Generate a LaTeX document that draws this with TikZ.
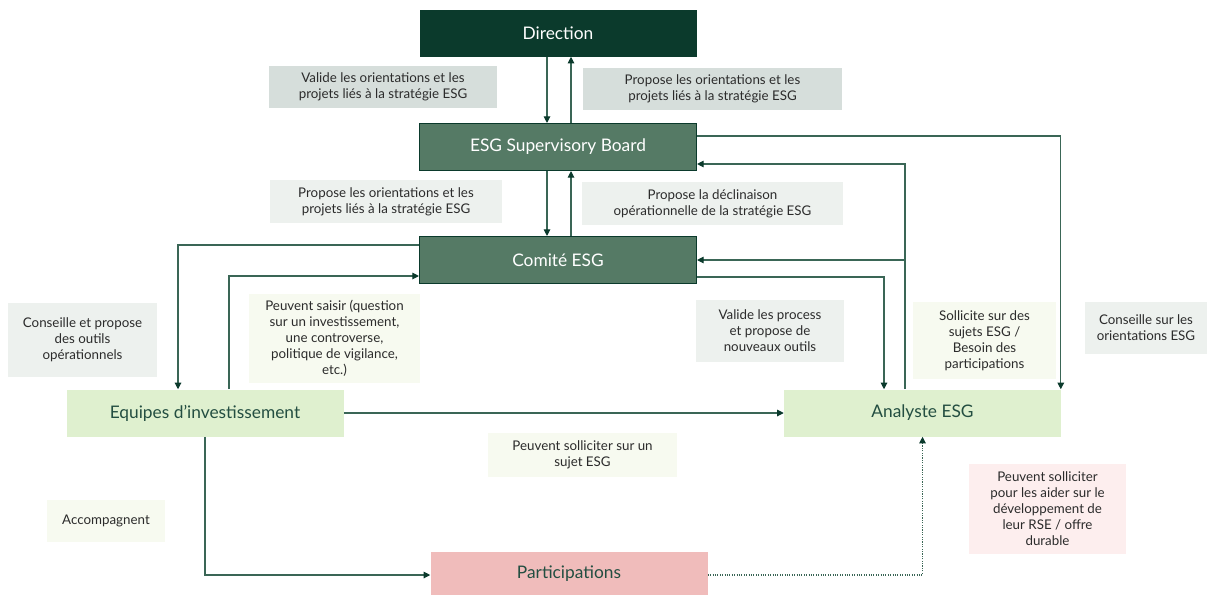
\documentclass[tikz,border=0pt]{standalone}
\usepackage{fontspec}
\setmainfont{Lato}
\usetikzlibrary{arrows.meta,calc}

\definecolor{vertfonce}{HTML}{0B3A2C}
\definecolor{vertmoyen}{HTML}{557A65}
\definecolor{vertclair}{HTML}{DFF0CF}
\definecolor{rose}{HTML}{F0BCBB}
\definecolor{rosepale}{HTML}{FDEEEE}
\definecolor{grisfonce}{HTML}{D6DEDB}
\definecolor{grispale}{HTML}{EDF1EE}
\definecolor{vertpale}{HTML}{F7FAF0}
\definecolor{trait}{HTML}{3A6656}
\definecolor{texte}{HTML}{2B2B2B}

\tikzset{
	boite/.style={minimum width=277*0.75pt, minimum height=47*0.75pt, inner sep=0pt, font=\fontsize{13}{15}\selectfont},
	direction/.style={boite, fill=vertfonce, text=white},
	instance/.style={boite, fill=vertmoyen, draw=vertfonce, line width=0.8pt, text=white},
	equipe/.style={boite, fill=vertclair, text=vertfonce!90},
	particip/.style={boite, fill=rose, text=vertfonce!90, minimum height=43*0.75pt},
	note/.style={inner sep=0pt, align=center, text=texte, font=\fontsize{10}{12}\selectfont},
	notegris/.style={note, fill=grisfonce},
	notepale/.style={note, fill=grispale},
	noteverte/.style={note, fill=vertpale},
	noterose/.style={note, fill=rosepale},
	fleche/.style={draw=trait, line width=0.8pt, -{Triangle[length=5pt,width=5pt,color=vertfonce]}},
}

\begin{document}
\begin{tikzpicture}[x=0.75pt, y=-0.75pt]
	\useasboundingbox (0,0) rectangle (1209,594);

% les instances
	\node[direction] (dir) at (558,33) {Direction};
	\node[instance] (board) at (558,147) {ESG Supervisory Board};
	\node[instance] (comite) at (558,260) {Comité ESG};
	\node[equipe] (equipes) at (205,413) {Equipes d’investissement};
	\node[equipe] (analyste) at (922.5,413) {Analyste ESG};
	\node[particip] (partic) at (569,573.5) {Participations};

% les annotations
	\node[notegris, minimum width=228*0.75pt, minimum height=42*0.75pt] (valide) at (383,87)
		{Valide les orientations et les\\projets liés à la stratégie ESG};
	\node[notegris, minimum width=259*0.75pt, minimum height=42*0.75pt] (proposeDir) at (712.5,89)
		{Propose les orientations et les\\projets liés à la stratégie ESG};
	\node[notepale, minimum width=232*0.75pt, minimum height=43*0.75pt] (proposeBoard) at (386,201.5)
		{Propose les orientations et les\\projets liés à la stratégie ESG};
	\node[notepale, minimum width=261*0.75pt, minimum height=43*0.75pt] (declinaison) at (712.5,203.5)
		{Propose la déclinaison\\opérationnelle de la stratégie ESG};
	\node[notepale, minimum width=149*0.75pt, minimum height=74*0.75pt] (outils) at (82.5,340)
		{Conseille et propose\\des outils\\opérationnels};
	\node[noteverte, minimum width=171*0.75pt, minimum height=89*0.75pt] (saisir) at (334.5,338.5)
		{Peuvent saisir (question\\sur un investissement,\\une controverse,\\politique de vigilance,\\etc.)};
	\node[notepale, minimum width=148*0.75pt, minimum height=62*0.75pt] (process) at (770,331)
		{Valide les process\\et propose de\\nouveaux outils};
	\node[noteverte, minimum width=143*0.75pt, minimum height=77*0.75pt] (sollicite) at (984.5,340.5)
		{Sollicite sur des\\sujets ESG /\\Besoin des\\participations};
	\node[notepale, minimum width=122*0.75pt, minimum height=52*0.75pt] (conseil) at (1146,328)
		{Conseille sur les\\orientations ESG};
	\node[noteverte, minimum width=118*0.75pt, minimum height=42*0.75pt] (accomp) at (106,521)
		{Accompagnent};
	\node[noteverte, minimum width=189*0.75pt, minimum height=44*0.75pt] (solliciter) at (582.5,455)
		{Peuvent solliciter sur un\\sujet ESG};
	\node[noterose, minimum width=157*0.75pt, minimum height=90*0.75pt] (rse) at (1047.5,509)
		{Peuvent solliciter\\pour les aider sur le\\développement de\\leur RSE / offre\\durable};

% les liens verticaux
	\draw[fleche] ($(dir.south)+(-11,0)$) -- ($(board.north)+(-11,0)$);
	\draw[fleche] ($(board.north)+(13,0)$) -- ($(dir.south)+(13,0)$);
	\draw[fleche] ($(board.south)+(-11,0)$) -- ($(comite.north)+(-11,0)$);
	\draw[fleche] ($(comite.north)+(13,0)$) -- ($(board.south)+(13,0)$);

% les liens vers l'analyste
	\draw[fleche] ($(board.east)+(0,-11)$) -| ($(analyste.north east)+(-0.5,0)$);
	\coordinate (jonction) at (905,260);
	\draw[fleche] ($(analyste.north)+(-17.5,0)$) |- ($(board.east)+(0,17)$);
	\draw[fleche] (jonction) -- (comite.east);
	\draw[fleche] ($(comite.east)+(0,17)$) -| ($(analyste.north)+(-38.5,0)$);
	\draw[fleche] (equipes.east) -- (analyste.west);

% les liens des equipes
	\draw[fleche] ($(comite.west)+(0,-15)$) -| ($(equipes.north)+(-27,0)$);
	\draw[fleche] ($(equipes.north)+(24,0)$) |- ($(comite.west)+(0,16)$);
	\draw[fleche] (equipes.south) |- ($(partic.west)+(0,1.5)$);
	\draw[fleche, densely dotted] ($(partic.east)+(0,1.5)$) -| (analyste.south);
\end{tikzpicture}
\end{document}
